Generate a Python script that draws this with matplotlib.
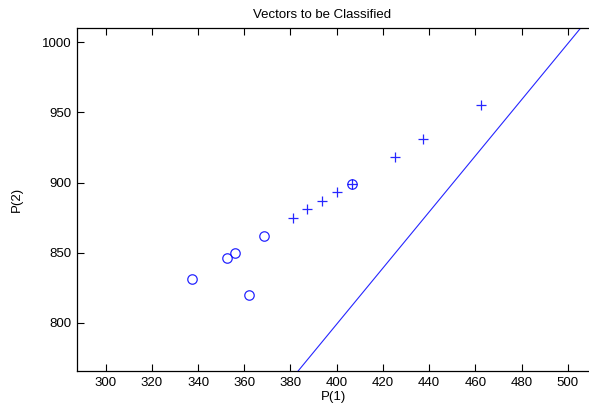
import numpy as np
import matplotlib.pyplot as plt

plt.rcParams['font.family'] = ['Liberation Sans', 'DejaVu Sans']

# input vectors P = [P(1); P(2)] and their targets
p1 = [337.5, 352.4, 356.0, 362.2, 368.5, 406.6,
      381.0, 387.1, 393.5, 400.0, 406.6, 425.1, 437.5, 462.3]
p2 = [831.0, 846.0, 849.5, 820.0, 862.0, 899.3,
      874.4, 880.8, 886.5, 893.0, 899.3, 918.3, 931.2, 955.2]
t = [0, 0, 0, 0, 0, 0, 1, 1, 1, 1, 1, 1, 1, 1]

# perceptron weights and bias: w1*P(1) + w2*P(2) + b = 0
w = [2.0, -1.0]
b = -1.0

xlim = (287.6, 509.2)
ylim = (765.6, 1010.2)

fig = plt.figure(figsize=(5.89, 4.12), dpi=100)
ax = fig.add_axes([77/589, 1 - 371/412, 1 - 77/589, (371 - 28)/412])

P1 = np.array(p1)
P2 = np.array(p2)
T = np.array(t)
ax.plot(P1[T == 0], P2[T == 0], 'o', color='#0000ff', mfc='none',
        ms=6.8, mew=0.9, alpha=0.85)
ax.plot(P1[T == 1], P2[T == 1], '+', color='#0000ff',
        ms=7.5, mew=0.9, alpha=0.85)

xs = np.array(xlim)
ax.plot(xs, -(w[0] * xs + b) / w[1], color='#0000ff', lw=0.8, alpha=0.85)

ax.set_xlim(xlim)
ax.set_ylim(ylim)
ax.set_xticks(range(300, 501, 20))
ax.set_yticks(range(800, 1001, 50))
ax.tick_params(direction='in', length=5, width=0.8, labelsize=9.5,
               top=True, right=False, pad=4)
for s in ['left', 'top', 'bottom']:
    ax.spines[s].set_linewidth(0.9)
ax.spines['right'].set_visible(False)

ax.set_title('Vectors to be Classified', fontsize=9.5, pad=7, x=0.478)
ax.set_xlabel('P(1)', fontsize=9.5, labelpad=2)
ax.set_ylabel('P(2)', fontsize=9.5, labelpad=14)

fig.savefig('out.png', dpi=100)
